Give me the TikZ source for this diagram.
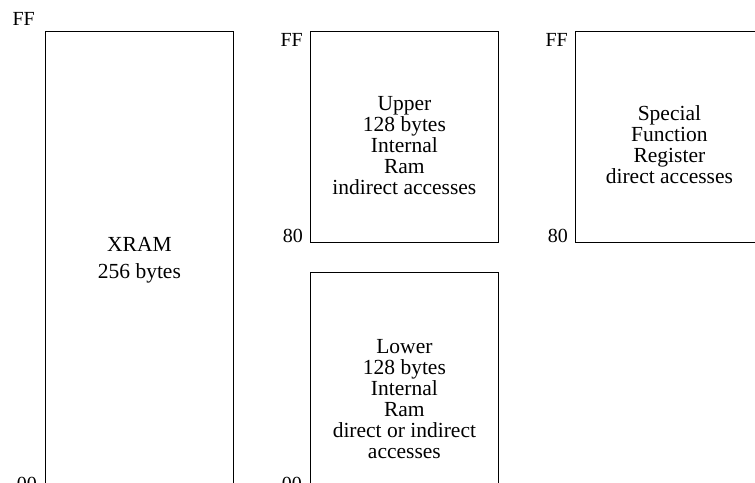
\documentclass[tikz,border=0pt]{standalone}
\usepackage{fontspec}
\setmainfont{Liberation Serif}
\usetikzlibrary{positioning}

\begin{document}
\begin{tikzpicture}[x=1pt,y=1pt,
  mem/.style={draw,thick,minimum width=188pt,inner sep=0pt},
  txt/.style={inner sep=0pt,align=center,font=\fontsize{21.5}{21}\selectfont},
  addr/.style={inner sep=0pt,font=\fontsize{20}{20}\selectfont}]
  \useasboundingbox (0,0) rectangle (755,482);
  % banks of the memory map
  \node[mem,minimum height=454pt,anchor=north west] (xram) at (45,451) {};
  \node[mem,minimum height=211pt,anchor=north west] (upper) at (310,451) {};
  \node[mem,minimum height=256pt,anchor=north west] (lower) at (310,210) {};
  \node[mem,minimum height=211pt,anchor=north west] (sfr) at (575,451) {};
  % what each bank holds
  \node[txt,below=206pt of xram.north] (xramtxt) {XRAM\\[6pt]256 bytes};
  \node[txt,below=65pt of upper.north] (uppertxt)
    {Upper\\128 bytes\\Internal\\Ram\\indirect accesses};
  \node[txt,below=67pt of lower.north] (lowertxt)
    {Lower\\128 bytes\\Internal\\Ram\\direct or indirect\\accesses};
  \node[txt,below=74pt of sfr.north] (sfrtxt)
    {Special\\Function\\Register\\direct accesses};
  % address labels
  \node[addr,anchor=south east] (xramff) at ([xshift=-10pt,yshift=5pt]xram.north west) {FF};
  \node[addr,anchor=south east] (xram00) at ([xshift=-8pt,yshift=-8.5pt]xram.west |- 0,0) {00};
  \node[addr,anchor=north east] (upperff) at ([xshift=-7pt,yshift=-2pt]upper.north west) {FF};
  \node[addr,anchor=south east] (upper80) at ([xshift=-7pt]upper.south west) {80};
  \node[addr,anchor=south east] (lower00) at ([xshift=-8pt,yshift=-8.5pt]lower.west |- 0,0) {00};
  \node[addr,anchor=north east] (sfrff) at ([xshift=-7pt,yshift=-2pt]sfr.north west) {FF};
  \node[addr,anchor=south east] (sfr80) at ([xshift=-7pt]sfr.south west) {80};
\end{tikzpicture}
\end{document}
